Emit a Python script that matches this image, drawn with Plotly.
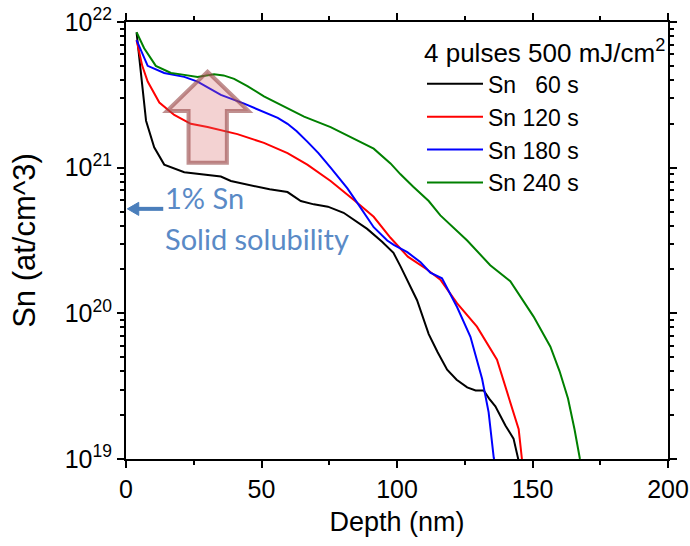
import plotly.graph_objects as go

# ---- data ----
depth_60 = [3.9, 5.5, 7.4, 10.4, 14.1, 21.5, 28, 35, 38.7, 47.2, 53, 59.6, 64.5, 69.3, 74.5, 80.3,
            84, 89, 94.5, 98.7, 101.3, 104.5, 107.4, 111.7, 115, 118.5, 122, 125.9, 129, 132, 134,
            136.3, 140, 143, 144.3, 145]
sn_60 = [8.5e21, 4.6e21, 2.1e21, 1.38e21, 1.05e21, 9.3e20, 9.0e20, 8.7e20, 8.1e20, 7.5e20, 7.1e20,
         6.8e20, 5.9e20, 5.6e20, 5.4e20, 4.9e20, 4.4e20, 3.8e20, 3.1e20, 2.6e20, 2.1e20, 1.6e20,
         1.23e20, 7.2e19, 5.4e19, 4.1e19, 3.5e19, 3.1e19, 2.95e19, 2.95e19, 2.6e19, 2.3e19, 1.7e19,
         1.38e19, 1.05e19, 9.5e18]

depth_120 = [3.9, 6, 8, 12.3, 17.8, 23.9, 30.1, 41.1, 50.9, 59.6, 66.9, 75.5, 84.1, 91.4, 97.6, 104,
             111.1, 116, 122.2, 129.5, 136.9, 140.6, 144.9, 146.1]
sn_120 = [7.5e21, 5.0e21, 3.9e21, 2.8e21, 2.3e21, 2.0e21, 1.9e21, 1.7e21, 1.48e21, 1.26e21, 1.05e21,
          8.1e20, 6.0e20, 4.6e20, 3.3e20, 2.45e20, 2.0e20, 1.7e20, 1.17e20, 8.1e19, 4.8e19, 2.9e19,
          1.6e19, 1.0e19]

depth_180 = [3.9, 6, 8, 14.1, 21.5, 26.4, 35, 43.6, 52.2, 56, 59.6, 63, 66.9, 71, 75.5, 81.7, 85.3,
             91.4, 96.4, 98.8, 103.8, 108.7, 112.3, 116.6, 122.2, 127.1, 131.4, 133.8, 135.7, 136.2]
sn_180 = [7.5e21, 6.0e21, 5.0e21, 4.47e21, 4.2e21, 3.9e21, 3.16e21, 2.75e21, 2.37e21, 2.2e21, 2.0e21,
          1.78e21, 1.51e21, 1.26e21, 1.0e21, 7.2e20, 5.75e20, 3.9e20, 3.16e20, 2.95e20, 2.63e20,
          2.24e20, 1.9e20, 1.74e20, 1.1e20, 6.9e19, 3.55e19, 2.1e19, 1.02e19, 9.3e18]

depth_240 = [3.9, 6.7, 11, 16.6, 20.3, 26.4, 32.5, 36, 39.9, 44.8, 50.9, 58.3, 65.7, 75.5, 84.1, 91.4,
             97.6, 101.3, 106, 111.7, 116, 125.9, 134.4, 141.8, 150.4, 156.6, 160, 163.1, 165.5, 167.5]
sn_240 = [8.5e21, 6.6e21, 5.0e21, 4.47e21, 4.37e21, 4.2e21, 4.37e21, 4.3e21, 4.07e21, 3.63e21, 3.09e21,
          2.63e21, 2.24e21, 1.9e21, 1.58e21, 1.35e21, 1.07e21, 9.0e20, 7.4e20, 5.9e20, 4.7e20, 3.16e20,
          2.14e20, 1.66e20, 9.5e19, 5.9e19, 4.0e19, 2.6e19, 1.6e19, 1.0e19]

series_names = ["Sn\u00a0\u00a0\u00a060 s", "Sn 120 s", "Sn 180 s", "Sn 240 s"]
series_colors = ["#000000", "#ff0000", "#0000ff", "#008000"]
series_x = [depth_60, depth_120, depth_180, depth_240]
series_y = [sn_60, sn_120, sn_180, sn_240]

y_tickvals = [1e19, 1e20, 1e21, 1e22]
y_ticktext = ["10<sup>19</sup>", "10<sup>20</sup>", "10<sup>21</sup>", "10<sup>22</sup>"]

FONT = "Liberation Sans, Arial, sans-serif"

fig = go.Figure()
for name, col, xs, ys in zip(series_names, series_colors, series_x, series_y):
    fig.add_trace(go.Scatter(x=xs, y=ys, mode="lines", name=name,
                             line=dict(color=col, width=2)))

fig.update_layout(
    width=690, height=546,
    margin=dict(l=126, r=22, t=22, b=87, autoexpand=False),
    paper_bgcolor="white", plot_bgcolor="white",
    font=dict(family=FONT, color="black", size=24),
    showlegend=True,
    legend=dict(
        x=1.0, xanchor="right", y=0.985, yanchor="top",
        bgcolor="rgba(255,255,255,0)", borderwidth=0,
        font=dict(family=FONT, size=23, color="black"),
        title=dict(text="4 pulses 500 mJ/cm<sup>2</sup>", font=dict(family=FONT, size=26)),
        tracegroupgap=0,
        itemwidth=56,
    ),
    xaxis=dict(
        range=[0, 200], dtick=50, tick0=0,
        showgrid=False, zeroline=False,
        showline=True, linecolor="black", linewidth=2, mirror="ticks",
        ticks="outside", ticklen=7, tickwidth=2, tickcolor="black",
        minor=dict(ticks="outside", ticklen=4, tickwidth=2, dtick=25, tickcolor="black"),
        tickfont=dict(size=25),
        title=dict(text="Depth (nm)", font=dict(size=27), standoff=10),
    ),
    yaxis=dict(
        type="log", range=[19, 22],
        tickvals=y_tickvals, ticktext=y_ticktext,
        showgrid=False, zeroline=False,
        showline=True, linecolor="black", linewidth=2, mirror="ticks",
        ticks="outside", ticklen=7, tickwidth=2, tickcolor="black",
        minor=dict(ticks="outside", ticklen=4, tickwidth=1.5, dtick="D1", tickcolor="black"),
        tickfont=dict(size=25),
        title=dict(text="Sn (at/cm^3)", font=dict(size=31), standoff=20),
    ),
)

# big translucent block arrow (paper coordinates of the plot area)
fig.add_shape(
    type="path", xref="paper", yref="paper", layer="above",
    path="M 0.1504 0.8863 L 0.2259 0.7962 L 0.1861 0.7962 L 0.1861 0.6782 "
         "L 0.1154 0.6782 L 0.1154 0.7962 L 0.0756 0.7962 Z",
    fillcolor="rgba(215,105,105,0.30)",
    line=dict(color="rgba(150,70,70,0.6)", width=4),
)

# solid solubility marker: short arrow pointing at the axis
ARROW_BLUE = "#4a7ebb"
fig.add_shape(type="line", xref="paper", yref="paper", layer="above",
              x0=0.0687, x1=0.018, y0=0.5724, y1=0.5724,
              line=dict(color=ARROW_BLUE, width=4))
fig.add_shape(type="path", xref="paper", yref="paper", layer="above",
              path="M 0.0025 0.5724 L 0.0235 0.5874 L 0.0235 0.5574 Z",
              fillcolor=ARROW_BLUE, line=dict(color=ARROW_BLUE, width=1))

BLUE = "#5a8ac6"
fig.add_annotation(xref="paper", yref="paper", x=0.068, y=0.598, xanchor="left", yanchor="middle",
                   text="1% Sn", showarrow=False,
                   font=dict(family="Lato, Carlito, sans-serif", size=29, color=BLUE))
fig.add_annotation(xref="paper", yref="paper", x=0.068, y=0.505, xanchor="left", yanchor="middle",
                   text="Solid solubility", showarrow=False,
                   font=dict(family="Lato, Carlito, sans-serif", size=29, color=BLUE))

fig.write_html("out.html")
